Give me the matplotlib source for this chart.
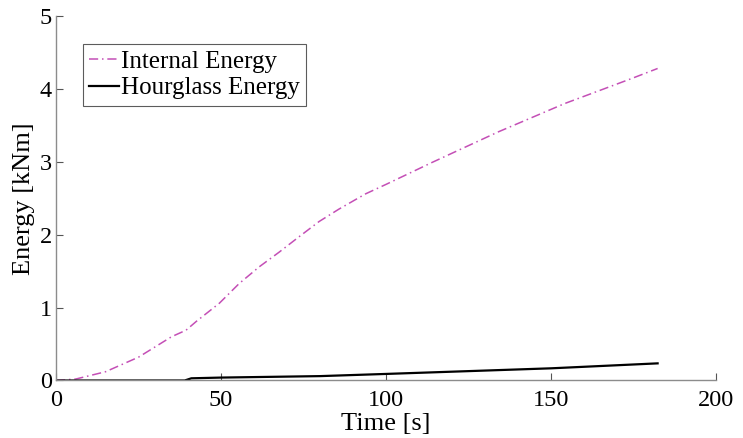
import numpy as np
import matplotlib
matplotlib.use("Agg")
import matplotlib.pyplot as plt

plt.rcParams['font.family'] = ['Liberation Serif', 'DejaVu Serif']

# internal energy curve
t_int = [0, 6, 15, 25, 35, 39.4, 42.5, 49.5, 55.5, 61.6, 67.6, 73.6, 79.7,
         85.7, 93.8, 100, 113.9, 134, 154.2, 174.3, 182.3]
e_int = [0, 0.02, 0.12, 0.32, 0.60, 0.69, 0.81, 1.06, 1.33, 1.56, 1.76, 1.97,
         2.18, 2.35, 2.56, 2.69, 2.99, 3.41, 3.80, 4.14, 4.28]

# hourglass energy curve
t_hg = [0, 39, 41, 50, 80, 100, 150, 182.3]
e_hg = [0, 0, 0.03, 0.04, 0.06, 0.09, 0.167, 0.235]

xticks = [0, 50, 100, 150, 200]
yticks = [0, 1, 2, 3, 4, 5]

fig = plt.figure(figsize=(7.43, 4.38), dpi=100)
ax = fig.add_axes([0.0754, 0.1313, 0.8883, 0.8322])

ax.plot(t_int, e_int, color='#c44fb6', lw=1.1, dashes=[6, 2.5, 1, 2.5],
        label='Internal Energy')
ax.plot(t_hg, e_hg, color='black', lw=1.6, label='Hourglass Energy')

ax.set_xlim(0, 200)
ax.set_ylim(0, 5)
ax.set_xticks(xticks)
ax.set_yticks(yticks)

for s in ['top', 'right']:
    ax.spines[s].set_visible(False)
for s in ['left', 'bottom']:
    ax.spines[s].set_color('#8c8c8c')
    ax.spines[s].set_linewidth(1.0)

ax.tick_params(direction='in', length=5, width=0.8, color='#555555',
               labelsize=17.5)
ax.tick_params(axis='x', pad=7)
ax.tick_params(axis='y', pad=3)

ax.set_xlabel('Time [s]', fontsize=19, labelpad=1)
ax.set_ylabel('Energy [kNm]', fontsize=19, labelpad=3)

leg = ax.legend(loc='upper left', bbox_to_anchor=(0.041, 0.922), fontsize=18,
                frameon=True, fancybox=False, handlelength=1.2,
                handletextpad=0.05, borderpad=0.25, labelspacing=0.15,
                borderaxespad=0)
leg.get_frame().set_edgecolor('#333333')
leg.get_frame().set_linewidth(0.8)

fig.savefig('out.png', dpi=100)
